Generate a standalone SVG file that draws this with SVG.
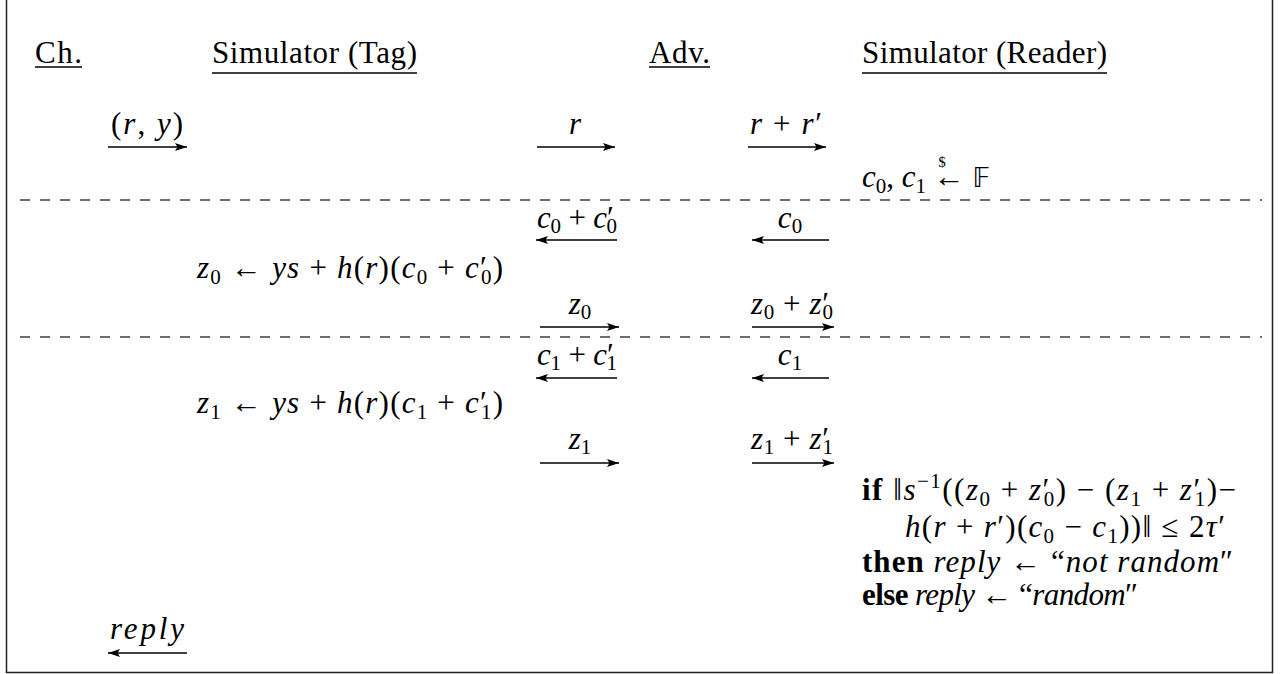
<svg xmlns="http://www.w3.org/2000/svg" width="1280" height="674" viewBox="0 0 1280 674">
<style>
.tx{font-family:"Liberation Serif","Times New Roman",Tinos,"DejaVu Serif",serif;font-size:31px;fill:#000}
.i{font-style:italic}
.b{font-weight:bold}
.s{font-size:21px}
.ul{stroke:#000;stroke-width:1.4}
.ar{stroke:#000;stroke-width:1.4;fill:none;marker-end:url(#ah)}
.dash{stroke:#6e6e6e;stroke-width:2;stroke-dasharray:10 10}
.bb{font-family:"DejaVu Sans","Noto Sans",sans-serif;font-size:26px}
</style>
<defs>
<marker id="ah" markerUnits="userSpaceOnUse" markerWidth="14" markerHeight="10" refX="12" refY="5" orient="auto">
<path d="M0,1 L12,5 L0,9 L2.5,5 z" fill="#000"/>
</marker>
</defs>
<rect width="1280" height="674" fill="#fff"/>
<path d="M6.5,-2 V672.5 H1272.5 V-2" fill="none" stroke="#222" stroke-width="1.5"/>

<g id="node-challenger">
<text class="tx" x="35" y="63" textLength="47">Ch.</text>
<line class="ul" x1="35" y1="67" x2="82" y2="67"/>
</g>
<g id="node-sim-tag">
<text class="tx" x="212" y="63" textLength="205">Simulator (Tag)</text>
<line class="ul" x1="212" y1="73" x2="417" y2="73"/>
</g>
<g id="node-adv">
<text class="tx" x="649" y="63" textLength="61">Adv.</text>
<line class="ul" x1="649" y1="67" x2="710" y2="67"/>
</g>
<g id="node-sim-reader">
<text class="tx" x="862" y="63" textLength="245">Simulator (Reader)</text>
<line class="ul" x1="862" y1="73" x2="1107" y2="73"/>
</g>

<g id="connectors">
<line class="dash" x1="20" y1="200" x2="1262" y2="200"/>
<line class="dash" x1="20" y1="337" x2="1262" y2="337"/>
<line class="ar" x1="108" y1="147" x2="187" y2="147"/>
<line class="ar" x1="537" y1="147" x2="615" y2="147"/>
<line class="ar" x1="748" y1="147" x2="826" y2="147"/>
<line class="ar" x1="617" y1="240" x2="536" y2="240"/>
<line class="ar" x1="829" y1="240" x2="752" y2="240"/>
<line class="ar" x1="540" y1="327" x2="619" y2="327"/>
<line class="ar" x1="752" y1="327" x2="834" y2="327"/>
<line class="ar" x1="617" y1="378" x2="536" y2="378"/>
<line class="ar" x1="829" y1="378" x2="752" y2="378"/>
<line class="ar" x1="540" y1="463" x2="619" y2="463"/>
<line class="ar" x1="752" y1="463" x2="834" y2="463"/>
<line class="ar" x1="187" y1="653" x2="108" y2="653"/>
</g>

<g id="arrow-labels" class="tx">
<text x="147" y="134" text-anchor="middle" textLength="72"><tspan>(</tspan><tspan class="i">r</tspan><tspan>, </tspan><tspan class="i">y</tspan><tspan>)</tspan></text>
<text x="575" y="134" text-anchor="middle" class="i">r</text>
<text x="786" y="134" text-anchor="middle" textLength="72"><tspan class="i">r</tspan><tspan> + </tspan><tspan class="i">r</tspan><tspan>′</tspan></text>
<text x="577" y="228" text-anchor="middle" textLength="80"><tspan class="i">c</tspan><tspan class="s" dy="5">0</tspan><tspan dy="-5"> + </tspan><tspan class="i">c</tspan><tspan>′</tspan><tspan class="s" dx="-7" dy="5">0</tspan></text>
<text x="790" y="228" text-anchor="middle"><tspan class="i">c</tspan><tspan class="s" dy="5">0</tspan></text>
<text x="580" y="314" text-anchor="middle"><tspan class="i">z</tspan><tspan class="s" dy="5">0</tspan></text>
<text x="792" y="314" text-anchor="middle" textLength="82"><tspan class="i">z</tspan><tspan class="s" dy="5">0</tspan><tspan dy="-5"> + </tspan><tspan class="i">z</tspan><tspan>′</tspan><tspan class="s" dx="-7" dy="5">0</tspan></text>
<text x="577" y="365" text-anchor="middle" textLength="80"><tspan class="i">c</tspan><tspan class="s" dy="5">1</tspan><tspan dy="-5"> + </tspan><tspan class="i">c</tspan><tspan>′</tspan><tspan class="s" dx="-7" dy="5">1</tspan></text>
<text x="790" y="365" text-anchor="middle"><tspan class="i">c</tspan><tspan class="s" dy="5">1</tspan></text>
<text x="580" y="449" text-anchor="middle"><tspan class="i">z</tspan><tspan class="s" dy="5">1</tspan></text>
<text x="792" y="449" text-anchor="middle" textLength="82"><tspan class="i">z</tspan><tspan class="s" dy="5">1</tspan><tspan dy="-5"> + </tspan><tspan class="i">z</tspan><tspan>′</tspan><tspan class="s" dx="-7" dy="5">1</tspan></text>
<text x="147" y="639" text-anchor="middle" class="i" textLength="74">reply</text>
</g>

<g id="tag-computations" class="tx">
<text x="197" y="278" textLength="306"><tspan class="i">z</tspan><tspan class="s" dy="6">0</tspan><tspan dy="-6"> ← </tspan><tspan class="i">ys</tspan><tspan> + </tspan><tspan class="i">h</tspan><tspan>(</tspan><tspan class="i">r</tspan><tspan>)(</tspan><tspan class="i">c</tspan><tspan class="s" dy="6">0</tspan><tspan dy="-6"> + </tspan><tspan class="i">c</tspan><tspan>′</tspan><tspan class="s" dx="-7" dy="6">0</tspan><tspan dy="-6">)</tspan></text>
<text x="197" y="413" textLength="306"><tspan class="i">z</tspan><tspan class="s" dy="6">1</tspan><tspan dy="-6"> ← </tspan><tspan class="i">ys</tspan><tspan> + </tspan><tspan class="i">h</tspan><tspan>(</tspan><tspan class="i">r</tspan><tspan>)(</tspan><tspan class="i">c</tspan><tspan class="s" dy="6">1</tspan><tspan dy="-6"> + </tspan><tspan class="i">c</tspan><tspan>′</tspan><tspan class="s" dx="-7" dy="6">1</tspan><tspan dy="-6">)</tspan></text>
</g>

<g id="reader-computations" class="tx">
<text x="862" y="187"><tspan class="i">c</tspan><tspan class="s" dy="6">0</tspan><tspan dy="-6">, </tspan><tspan class="i">c</tspan><tspan class="s" dy="6">1</tspan><tspan dy="-6"> ← </tspan><tspan class="bb">𝔽</tspan></text>
<text x="942" y="167" class="tx" text-anchor="middle" style="font-size:15px">$</text>
<text x="862" y="500" textLength="374"><tspan class="b">if</tspan><tspan> ‖</tspan><tspan class="i">s</tspan><tspan class="s" dy="-12">−1</tspan><tspan dy="12">((</tspan><tspan class="i">z</tspan><tspan class="s" dy="6">0</tspan><tspan dy="-6"> + </tspan><tspan class="i">z</tspan><tspan>′</tspan><tspan class="s" dx="-7" dy="6">0</tspan><tspan dy="-6">) − (</tspan><tspan class="i">z</tspan><tspan class="s" dy="6">1</tspan><tspan dy="-6"> + </tspan><tspan class="i">z</tspan><tspan>′</tspan><tspan class="s" dx="-7" dy="6">1</tspan><tspan dy="-6">)−</tspan></text>
<text x="905" y="537" textLength="320"><tspan class="i">h</tspan><tspan>(</tspan><tspan class="i">r</tspan><tspan> + </tspan><tspan class="i">r</tspan><tspan>′)(</tspan><tspan class="i">c</tspan><tspan class="s" dy="6">0</tspan><tspan dy="-6"> − </tspan><tspan class="i">c</tspan><tspan class="s" dy="6">1</tspan><tspan dy="-6">))‖ ≤ 2</tspan><tspan class="i">τ</tspan><tspan>′</tspan></text>
<text x="862" y="572" textLength="371"><tspan class="b">then</tspan><tspan> </tspan><tspan class="i">reply</tspan><tspan> ← “</tspan><tspan class="i">not random</tspan><tspan>″</tspan></text>
<text x="862" y="605" textLength="276"><tspan class="b">else</tspan><tspan> </tspan><tspan class="i">reply</tspan><tspan> ← “</tspan><tspan class="i">random</tspan><tspan>″</tspan></text>
</g>
</svg>
